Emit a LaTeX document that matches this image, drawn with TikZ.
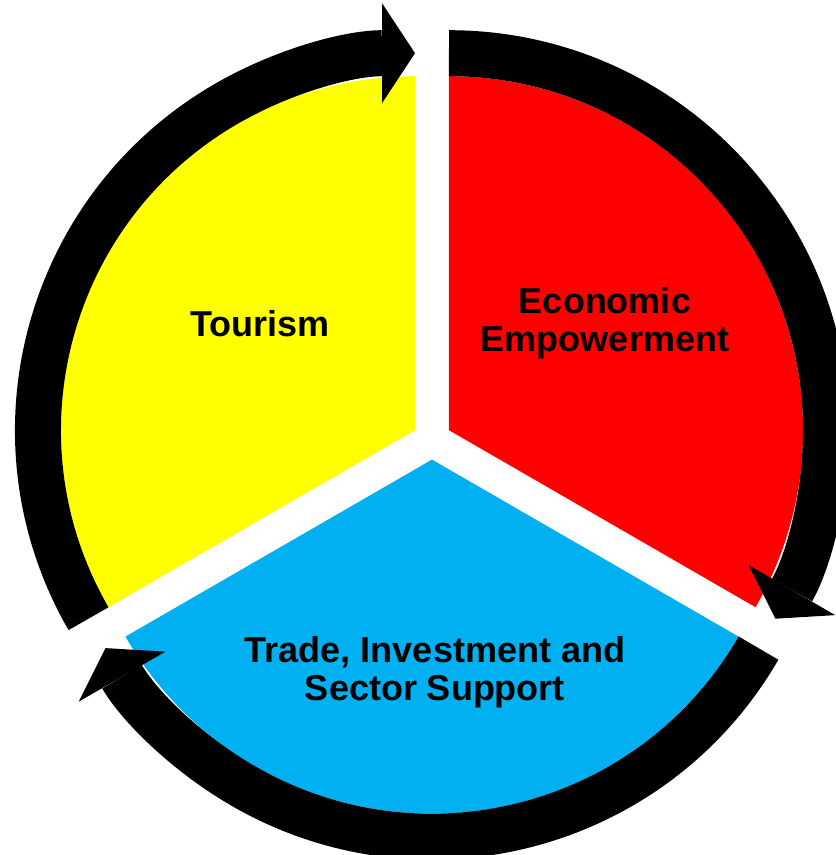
\documentclass[tikz,border=0pt]{standalone}
\usepackage{fontspec}
\setmainfont{Liberation Sans}
\usepackage{tikz}
\usetikzlibrary{arrows.meta}
\definecolor{segyellow}{RGB}{255,255,0}
\definecolor{segred}{RGB}{255,0,0}
\definecolor{segblue}{RGB}{0,176,240}

\begin{document}
\begin{tikzpicture}[x=1pt,y=1pt,
                    >={Triangle[width=100pt,length=33pt,line width=0pt]}]
  \tikzstyle{seg}=[draw=none]
  \tikzstyle{lab}=[font=\fontsize{36}{38}\selectfont\bfseries, align=center, text=black]
  \tikzstyle{ring}=[->, line width=46pt, black]

  \useasboundingbox (-432,-415) rectangle (404,440);

  % centres of the three pieces
  \coordinate (Y) at (150:19.6);
  \coordinate (R) at (30:19.6);
  \coordinate (B) at (270:19.6);

  \fill[seg,segyellow] (Y) -- ([shift={(90:354)}]Y)
      arc[start angle=90,end angle=210,radius=354] -- cycle;
  \fill[seg,segred] (R) -- ([shift={(-30:354)}]R)
      arc[start angle=-30,end angle=90,radius=354] -- cycle;
  \fill[seg,segblue] (B) -- ([shift={(210:354)}]B)
      arc[start angle=210,end angle=330,radius=354] -- cycle;

  % arrows round the pieces
  \coordinate (Yt) at ([shift={(210:377)}]Y);
  \coordinate (Rt) at ([shift={(90:377)}]R);
  \coordinate (Bt) at ([shift={(-30:377)}]B);
  \draw[ring] (Yt) arc[start angle=210,end angle=90,radius=377];
  \draw[ring] (Rt) arc[start angle=90,end angle=-30,radius=377];
  \draw[ring] (Bt) arc[start angle=-30,end angle=-150,radius=377];

  \node[lab] (tour)  at (-172,116) {Tourism};
  \node[lab] (econ)  at (173,117)  {Economic\\Empowerment};
  \node[lab] (trade) at (3,-232)   {Trade, Investment and\\Sector Support};
\end{tikzpicture}
\end{document}
